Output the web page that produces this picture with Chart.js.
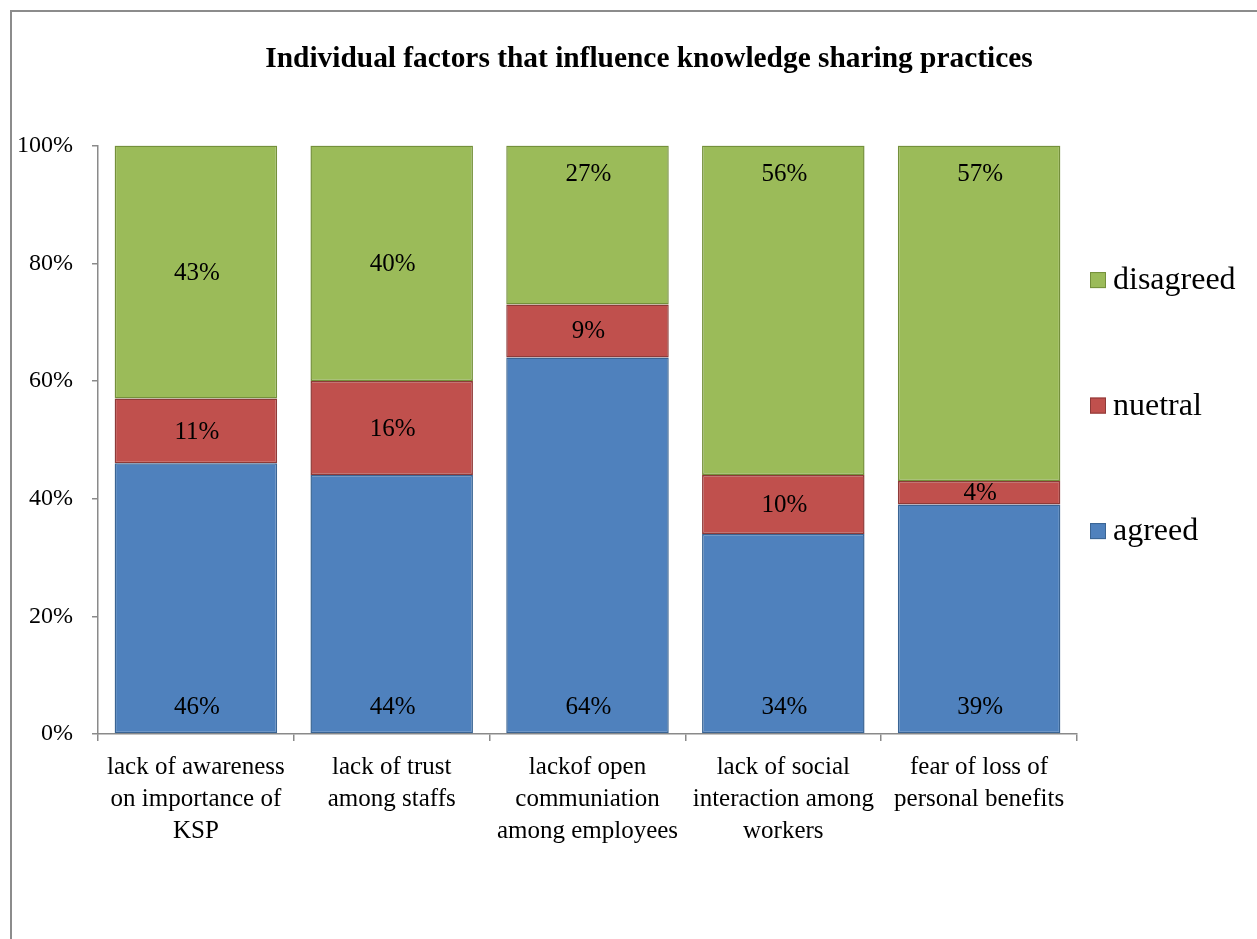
<!DOCTYPE html>
<html>
<head>
<meta charset="utf-8">
<title>Individual factors that influence knowledge sharing practices</title>
<script src="https://cdn.jsdelivr.net/npm/chart.js@4.4.1/dist/chart.umd.min.js"></script>
<style>
  html, body { margin: 0; padding: 0; background: #fff; overflow: hidden; }
  .chart-frame { position: absolute; left: 10px; top: 10px; width: 1274px; height: 940px; border: 2px solid #8c8c8c; background: #fff; }
  canvas { display: block; }
</style>
</head>
<body>
<div class="chart-frame">
  <canvas id="factorsChart" width="1274" height="927"></canvas>
</div>
<script>
const categories = [
  ['lack of awareness', 'on importance of', 'KSP'],
  ['lack of trust', 'among staffs'],
  ['lackof open', 'communiation', 'among employees'],
  ['lack of social', 'interaction among', 'workers'],
  ['fear of loss of', 'personal benefits']
];
const agreed = [46, 44, 64, 34, 39];
const nuetral = [11, 16, 9, 10, 4];
const disagreed = [43, 40, 27, 56, 57];
const yTicks = [0, 20, 40, 60, 80, 100];

const SERIF = '"Liberation Serif", "Times New Roman", serif';
const AXIS_GRAY = '#8a8a8a';

// value labels: 'base' sits near the bottom of the segment, 'end' near its top
const segmentLabels = {
  id: 'segmentLabels',
  afterDatasetsDraw(chart) {
    const { ctx } = chart;
    ctx.save();
    ctx.font = '25px ' + SERIF;
    ctx.fillStyle = '#000';
    ctx.textAlign = 'center';
    ctx.textBaseline = 'middle';
    chart.data.datasets.forEach((ds, i) => {
      chart.getDatasetMeta(i).data.forEach((bar, j) => {
        const top = Math.min(bar.y, bar.base);
        const bottom = Math.max(bar.y, bar.base);
        let y = (top + bottom) / 2;
        if (ds.labelAt[j] === 'base') y = bottom - 27;
        if (ds.labelAt[j] === 'end') y = top + 28;
        ctx.fillText(ds.data[j] + '%', bar.x + 1, y + 1);
      });
    });
    ctx.restore();
  }
};

// legend column on the right, registered as a layout box so the plot area leaves room for it
const sideLegend = {
  id: 'sideLegend',
  beforeInit(chart) {
    const box = {
      position: 'right',
      weight: 1000,
      fullSize: false,
      options: {},
      top: 0, left: 0, right: 0, bottom: 0, width: 0, height: 0,
      isHorizontal() { return false; },
      update(maxWidth, maxHeight) {
        this.width = 209;
        this.height = maxHeight;
      },
      draw() {
        const ctx = chart.ctx;
        const items = chart.data.datasets.slice().reverse();
        ctx.save();
        ctx.font = '32px ' + SERIF;
        ctx.textAlign = 'left';
        ctx.textBaseline = 'middle';
        items.forEach((ds, k) => {
          const cy = chart.chartArea.top + 134.5 + k * 125.5;
          ctx.fillStyle = ds.backgroundColor;
          ctx.fillRect(this.left + 13, cy - 8, 16, 16);
          ctx.strokeStyle = ds.borderColor;
          ctx.lineWidth = 1;
          ctx.strokeRect(this.left + 13.5, cy - 7.5, 15, 15);
          ctx.fillStyle = '#000';
          ctx.fillText(ds.label, this.left + 36, cy + 1);
        });
        ctx.restore();
      }
    };
    Chart.layouts.addBox(chart, box);
  }
};

new Chart(document.getElementById('factorsChart'), {
  type: 'bar',
  data: {
    labels: categories,
    datasets: [
      {
        label: 'agreed',
        data: agreed,
        backgroundColor: '#4F81BD',
        borderColor: '#3A6493',
        labelAt: ['base', 'base', 'base', 'base', 'base']
      },
      {
        label: 'nuetral',
        data: nuetral,
        backgroundColor: '#C0504D',
        borderColor: '#8E3A38',
        labelAt: ['center', 'center', 'center', 'center', 'center']
      },
      {
        label: 'disagreed',
        data: disagreed,
        backgroundColor: '#9BBB59',
        borderColor: '#74903B',
        labelAt: ['center', 'center', 'end', 'end', 'end']
      }
    ]
  },
  options: {
    responsive: false,
    animation: false,
    devicePixelRatio: 1,
    layout: { padding: 0 },
    datasets: {
      bar: {
        borderWidth: 1.5,
        borderSkipped: false,
        barPercentage: 0.83,
        categoryPercentage: 1
      }
    },
    plugins: {
      legend: { display: false },
      tooltip: { enabled: false },
      title: {
        display: true,
        text: 'Individual factors that influence knowledge sharing practices',
        color: '#000',
        font: { family: SERIF, size: 29.4, weight: 'bold', lineHeight: 1.2 },
        padding: { top: 30, bottom: 68.3 }
      }
    },
    scales: {
      x: {
        stacked: true,
        grid: { offset: true, drawOnChartArea: false, tickLength: 7, color: AXIS_GRAY, lineWidth: 1.5 },
        border: { color: AXIS_GRAY, width: 1.5 },
        ticks: {
          color: '#000',
          font: { family: SERIF, size: 25, lineHeight: 1.27 },
          padding: 11,
          minRotation: 0,
          maxRotation: 0,
          autoSkip: false
        },
        afterFit(scale) { scale.height = 205; }
      },
      y: {
        stacked: true,
        min: 0,
        max: 100,
        grid: { drawOnChartArea: false, tickLength: 6, color: AXIS_GRAY, lineWidth: 1.5 },
        border: { color: AXIS_GRAY, width: 1.5 },
        ticks: {
          color: '#000',
          font: { family: SERIF, size: 24 },
          padding: 19,
          callback: v => v + '%'
        },
        afterBuildTicks(scale) { scale.ticks = yTicks.map(v => ({ value: v })); },
        afterFit(scale) { scale.width = 86; }
      }
    }
  },
  plugins: [sideLegend, segmentLabels]
});
</script>
</body>
</html>
